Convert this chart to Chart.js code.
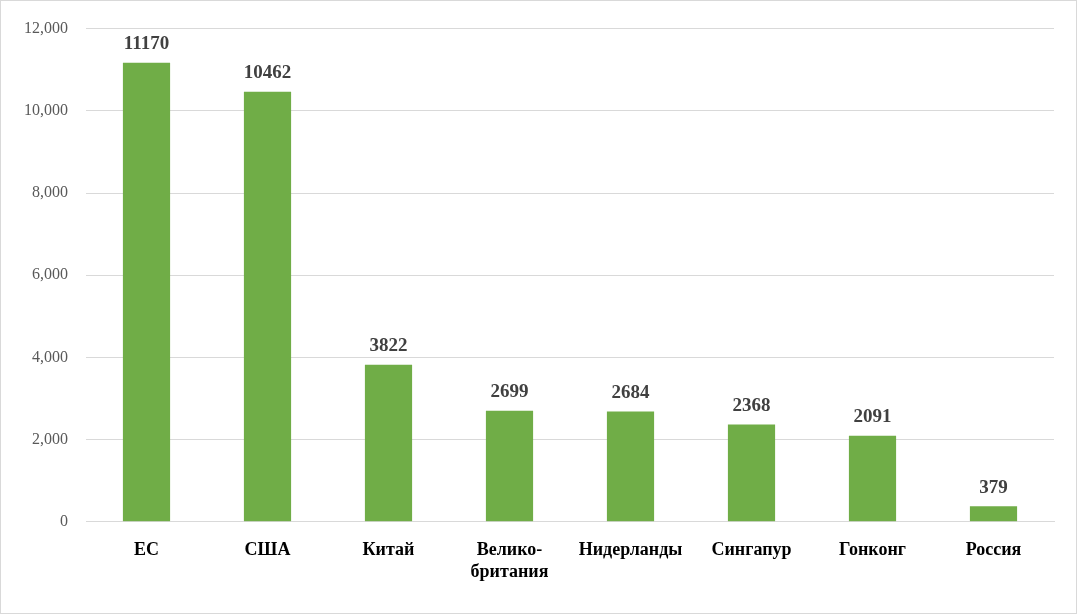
<!DOCTYPE html>
<html><head><meta charset="utf-8">
<script src="https://cdn.jsdelivr.net/npm/chart.js@4"></script>
<style>html,body{margin:0;padding:0;background:#fff}#w{position:absolute;left:0;top:0;width:1075px;height:612px;border:1px solid #d9d9d9}</style>
</head><body><div id="w"><canvas id="c"></canvas></div>
<script>
const categories=["ЕС","США","Китай",["Велико-","британия"],"Нидерланды","Сингапур","Гонконг","Россия"];
const values=[11170,10462,3822,2699,2684,2368,2091,379];
const yTicks=[0,2000,4000,6000,8000,10000,12000];
const labelsPlugin={id:'vl',afterDatasetsDraw(ch){const c=ch.ctx;const m=ch.getDatasetMeta(0);c.save();c.font='bold 19px "Liberation Serif"';c.fillStyle='#404040';c.textAlign='center';c.textBaseline='bottom';m.data.forEach((e,i)=>{c.fillText(values[i],e.x,e.y-9);});c.restore();}};
new Chart(document.getElementById('c'),{type:'bar',data:{labels:categories,datasets:[{data:values,backgroundColor:'#70AD47',barPercentage:0.39,categoryPercentage:1}]},
options:{responsive:true,maintainAspectRatio:false,animation:false,layout:{padding:{left:18,right:22,top:18,bottom:20}},
plugins:{legend:{display:false},tooltip:{enabled:false}},
scales:{y:{min:0,max:12000,afterBuildTicks(a){a.ticks=yTicks.map(v=>({value:v}));},afterFit(a){a.width=67;},border:{display:false},grid:{color:'#d9d9d9',drawTicks:false},ticks:{padding:18,color:'#595959',font:{family:'Liberation Serif',size:16}}},
x:{grid:{display:false},border:{color:'#d9d9d9'},ticks:{padding:10,color:'#000',maxRotation:0,autoSkip:false,font:{family:'Liberation Serif',size:18,weight:'bold'}}}}},
plugins:[labelsPlugin]});
</script></body></html>
